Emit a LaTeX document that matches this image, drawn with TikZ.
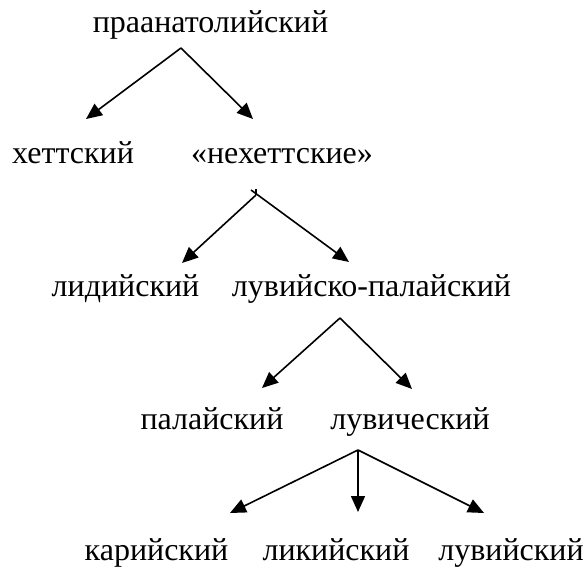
\documentclass[tikz,border=0pt]{standalone}
\usepackage{fontspec}
\setmainfont{Liberation Serif}
\usetikzlibrary{arrows.meta}
\begin{document}
\begin{tikzpicture}[x=1pt,y=-1pt,
  lbl/.style={inner sep=0pt,anchor=base,font=\fontsize{32}{34}\selectfont},
  arr/.style={line width=1.6pt,-{Triangle[length=16pt,width=14pt]}},
  ln/.style={line width=1.6pt}]
\useasboundingbox (0,0) rectangle (586,569);
% labels
\node[lbl] (A) at (210.5,33) {праанатолийский};
\node[lbl] (B) at (73,164) {хеттский};
\node[lbl] (C) at (282,164) {«нехеттские»};
\node[lbl] (D) at (125.5,296) {лидийский};
\node[lbl] (E) at (371.5,296) {лувийско-палайский};
\node[lbl] (F) at (212,429) {палайский};
\node[lbl] (G) at (410,429) {лувический};
\node[lbl] (H) at (156.5,560) {карийский};
\node[lbl] (I) at (336,560) {ликийский};
\node[lbl] (J) at (511,560) {лувийский};
% coordinates
\coordinate (p1) at (181,48);
\coordinate (t1a) at (86,119);
\coordinate (t1b) at (253,119);
\coordinate (p2) at (256,195);
\coordinate (k2) at (251,190);
\coordinate (t2a) at (182,263);
\coordinate (t2b) at (349,262);
\coordinate (p3) at (340,318);
\coordinate (t3a) at (262,388);
\coordinate (t3b) at (412,389);
\coordinate (p4) at (358,450);
\coordinate (t4a) at (230,513);
\coordinate (t4b) at (358,512);
\coordinate (t4c) at (484,513);
% arrows
\draw[arr] (p1) -- (t1a);
\draw[arr] (p1) -- (t1b);
\draw[arr] (p2) -- (t2a);
\draw[arr] (k2) -- (t2b);
\draw[ln] (p2) -- ++(0,-6);
\draw[arr] (p3) -- (t3a);
\draw[arr] (p3) -- (t3b);
\draw[arr] (p4) -- (t4a);
\draw[arr] (p4) -- (t4b);
\draw[arr] (p4) -- (t4c);
\end{tikzpicture}
\end{document}
